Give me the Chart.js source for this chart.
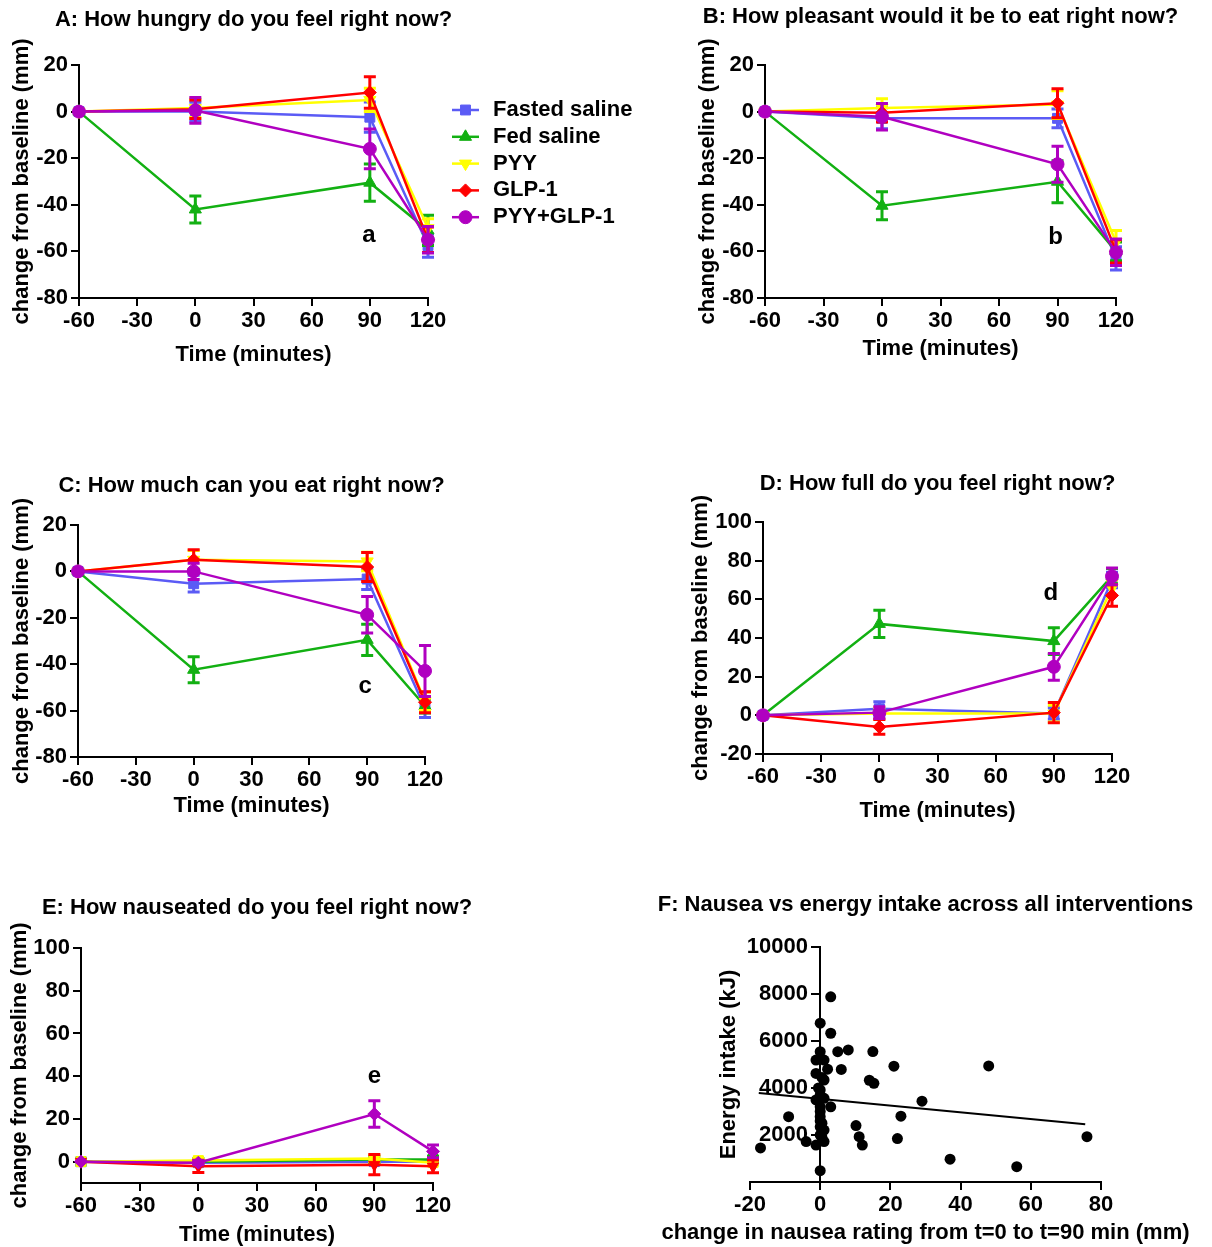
<!DOCTYPE html>
<html><head><meta charset="utf-8">
<script src="https://cdn.jsdelivr.net/npm/chart.js@4.4.1/dist/chart.umd.min.js"></script>
<style>
html,body{margin:0;padding:0;background:#fff;}
#wrap{position:relative;width:1212px;height:1247px;overflow:hidden;background:#fff;}
canvas{position:absolute;}
</style></head><body><div id="wrap"></div>
<script>
// ---------------- DATA ----------------
const timePoints = [-60, 0, 90, 120];
const seriesNames = ['Fasted saline', 'Fed saline', 'PYY', 'GLP-1', 'PYY+GLP-1'];
const xTickLabels = [-60, -30, 0, 30, 60, 90, 120];
const yTicksABC = [-80, -60, -40, -20, 0, 20];
const yTicksD = [-20, 0, 20, 40, 60, 80, 100];
const yTicksE = [0, 20, 40, 60, 80, 100];
const xTicksF = [-20, 0, 20, 40, 60, 80];
const yTicksF = [2000, 4000, 6000, 8000, 10000];

// A: hunger
const fastedA = [0, 0, -2.4, -57.5];
const fedA    = [0, -42, -30.5, -51];
const pyyA    = [0, 1.5, 5, -50];
const glpA    = [0, 1, 8.2, -55];
const comboA  = [0, 0.5, -16, -55];
const errFastedA = [0, 4, 6.5, 5];
const errFedA    = [0, 5.8, 8, 6.5];
const errPyyA    = [0, 4, 5, 4];
const errGlpA    = [0, 4, 6.8, 5.5];
const errComboA  = [0, 5.5, 8.5, 5.7];

// B: pleasantness
const fastedB = [0, -2.9, -2.9, -63];
const fedB    = [0, -40.4, -30.1, -60];
const pyyB    = [0, 1.5, 3, -56];
const glpB    = [0, -0.5, 3.6, -60];
const comboB  = [0, -2.2, -22.6, -60.4];
const errFastedB = [0, 4.5, 4, 5];
const errFedB    = [0, 6, 9, 4];
const errPyyB    = [0, 4, 6, 5];
const errGlpB    = [0, 4, 6.2, 5];
const errComboB  = [0, 5.7, 7.7, 5.7];

// C: how much can you eat
const fastedC = [0, -5.3, -3.3, -59];
const fedC    = [0, -42.4, -29.5, -58];
const pyyC    = [0, 5, 4.3, -56];
const glpC    = [0, 5, 1.9, -56.4];
const comboC  = [0, 0, -18.7, -42.9];
const errFastedC = [0, 3.6, 4.5, 4];
const errFedC    = [0, 5.6, 6.7, 3];
const errPyyC    = [0, 4, 4, 4];
const errGlpC    = [0, 4.3, 6.3, 4.5];
const errComboC  = [0, 3.5, 7.9, 11];

// D: fullness
const fastedD = [0, 3.4, 1, 70];
const fedD    = [0, 47.3, 38.4, 72];
const pyyD    = [0, 1, 0.9, 66];
const glpD    = [0, -6, 1.4, 62];
const comboD  = [0, 1.4, 25.1, 71.9];
const errFastedD = [0, 3.6, 3, 4];
const errFedD    = [0, 7, 6.9, 4];
const errPyyD    = [0, 3, 4.3, 4];
const errGlpD    = [0, 3.8, 5.3, 5.6];
const errComboD  = [0, 3, 6.9, 4.3];

// E: nausea
const fastedE = [0, -0.5, 0, 0];
const fedE    = [0, 0, 1, 1];
const pyyE    = [0, 0.5, 1.5, -0.5];
const glpE    = [0, -2.2, -1.4, -2.2];
const comboE  = [0, -0.5, 22.3, 4.8];
const errFastedE = [0, 1, 1, 1];
const errFedE    = [0, 1.5, 1.5, 1.5];
const errPyyE    = [0, 1, 1.5, 1];
const errGlpE    = [0, 2.9, 4.7, 3];
const errComboE  = [0, 1, 6.2, 3];

// F: nausea change vs energy intake
const nauseaChange = [-17, -9, -4, -1.2, 0, 0, 3, 3, 0, 5, 8, 15, -1.2, 1.1, 2.1, 6, -1.2, 1.1, 14, 15.3,
  0, -1.2, 1.1, 0, 3, 0, 0.5, 0, 1.1, 0, 1.1, 10.2, 11.1, 12, 21, 29, 23, 22, 37, 48, 56, 76, 0, 0, -0.5, 0.5, 0.5, 0];
const energyIntake = [1450, 2780, 1720, 1570, 480, 6760, 7880, 6330, 5545, 5545, 5620, 5550, 5190, 5190, 4800, 4790, 4620, 4340, 4330, 4200,
  3920, 3490, 3560, 3200, 3200, 2780, 2500, 2350, 2210, 2000, 1720, 2400, 1930, 1570, 4930, 3440, 2800, 1850, 970, 4940, 650, 1930, 3000, 2600, 4000, 1900, 4450, 3700];
const fitLineX = [-17.5, 75.5];
const fitLineY = [3790, 2460];

// ---------------- STYLE ----------------
const seriesColors = ['#5b5bf5', '#12b012', '#ffff00', '#ff0000', '#b000c0'];
const pointStyles = ['rect', 'triangle', 'triangle', 'rectRot', 'circle'];
const pointRots = [0, 0, 180, 0, 0];
const pointRadii = [7, 7, 7, 6.5, 6.5];
const pointStylesE = ['rect', 'rect', 'rect', 'triangle', 'rectRot'];
const pointRotsE = [0, 0, 0, 180, 0];

const FAM = "'Liberation Sans', Arial, Helvetica, sans-serif";
Chart.defaults.font.family = FAM;
Chart.defaults.font.size = 22;
Chart.defaults.font.weight = 'bold';
Chart.defaults.color = '#000';
const FS = 22, LHpx = FS * 1.2;

// ---------------- PLUGINS ----------------
const errorBarPlugin = {
  id: 'errorBars',
  beforeDatasetDraw(chart, args) {
    const ds = chart.data.datasets[args.index];
    if (!ds.errors) return;
    const ys = chart.scales.y, ctx = chart.ctx;
    ctx.save();
    ctx.strokeStyle = ds.borderColor;
    ctx.lineWidth = 3;
    args.meta.data.forEach((pt, i) => {
      const e = ds.errors[i];
      if (!e) return;
      const v = ds.data[i].y;
      const y1 = ys.getPixelForValue(v + e), y2 = ys.getPixelForValue(v - e);
      const x = pt.x, w = 6;
      ctx.beginPath();
      ctx.moveTo(x, y1); ctx.lineTo(x, y2);
      ctx.moveTo(x - w, y1); ctx.lineTo(x + w, y1);
      ctx.moveTo(x - w, y2); ctx.lineTo(x + w, y2);
      ctx.stroke();
    });
    ctx.restore();
  }
};

const sideLegendPlugin = {
  id: 'sideLegend',
  afterDraw(chart, args, opts) {
    if (!opts || !opts.display) return;
    const ctx = chart.ctx;
    ctx.save();
    chart.data.datasets.forEach((ds, i) => {
      const y = opts.y0 + i * opts.dy;
      ctx.strokeStyle = ds.borderColor;
      ctx.lineWidth = 2.5;
      ctx.beginPath();
      ctx.moveTo(opts.x0, y); ctx.lineTo(opts.x0 + opts.len, y);
      ctx.stroke();
      ctx.fillStyle = ds.pointBackgroundColor;
      ctx.strokeStyle = ds.pointBorderColor;
      ctx.lineWidth = 1;
      Chart.helpers.drawPoint(ctx, {pointStyle: ds.pointStyle, radius: ds.pointRadius, rotation: ds.pointRotation || 0, borderWidth: 1}, opts.x0 + opts.len / 2, y);
      ctx.fillStyle = '#000';
      ctx.font = 'bold 22px ' + FAM;
      ctx.textAlign = 'left';
      ctx.textBaseline = 'middle';
      ctx.fillText(ds.label, opts.tx, y);
    });
    ctx.restore();
  }
};

const noteTextPlugin = {
  id: 'noteText',
  afterDraw(chart, args, opts) {
    if (!opts || !opts.items) return;
    const ctx = chart.ctx;
    opts.items.forEach(it => {
      ctx.save();
      ctx.fillStyle = '#000';
      ctx.font = 'bold ' + (it.size || 22) + 'px ' + FAM;
      ctx.textAlign = 'center';
      ctx.textBaseline = 'middle';
      let x, y;
      if (it.xVal !== undefined) {
        x = chart.scales.x.getPixelForValue(it.xVal);
        y = chart.scales.y.getPixelForValue(it.yVal);
      } else {
        x = it.px === 'center' ? (chart.chartArea.left + chart.chartArea.right) / 2 : it.px;
        y = it.py === undefined ? (chart.chartArea.top + chart.chartArea.bottom) / 2 : it.py;
      }
      ctx.translate(x, y);
      if (it.rotate) ctx.rotate(it.rotate);
      ctx.fillText(it.text, 0, 0);
      ctx.restore();
    });
  }
};

Chart.register(errorBarPlugin, sideLegendPlugin, noteTextPlugin);

function mkCanvas(p) {
  const c = document.createElement('canvas');
  c.width = p.cw; c.height = p.ch;
  c.style.left = p.cx + 'px'; c.style.top = p.cy + 'px';
  c.style.width = p.cw + 'px'; c.style.height = p.ch + 'px';
  document.getElementById('wrap').appendChild(c);
  return c;
}

const axisGrid = {display: true, drawOnChartArea: false, drawTicks: true, tickLength: 8, color: '#000', lineWidth: 2};
const axisBorder = {display: true, color: '#000', width: 2};
const boldFont = {size: 22, weight: 'bold', family: FAM, lineHeight: 1.2};

function makeLinePanel(p) {
  const canvas = mkCanvas(p);
  const Lx = p.L - p.cx, Rx = p.R - p.cx, Ty = p.T - p.cy, By = p.B - p.cy;
  const styles = p.styles || pointStyles, rots = p.rots || pointRots;
  const datasets = seriesNames.map((name, i) => ({
    label: name,
    data: timePoints.map((t, k) => ({x: t, y: p.values[i][k]})),
    errors: p.errors[i],
    borderColor: seriesColors[i],
    backgroundColor: seriesColors[i],
    pointBackgroundColor: seriesColors[i],
    pointBorderColor: seriesColors[i],
    pointStyle: styles[i],
    pointRotation: rots[i],
    pointRadius: pointRadii[i],
    pointBorderWidth: 1,
    borderWidth: 2.5,
    tension: 0,
    clip: false,
    order: 5 - i
  }));
  const plugins = {
    legend: {display: false},
    tooltip: {enabled: false},
    title: {display: false},
    noteText: {items: [
      {text: p.title, px: 'center', py: p.titleY - p.cy, size: 22},
      {text: p.note, xVal: p.noteX, yVal: p.noteY, size: 24}
    ]}
  };
  if (p.legend) plugins.sideLegend = {display: true, x0: 452, len: 27, tx: 493, y0: 110, dy: 26.8};
  new Chart(canvas, {
    type: 'line',
    data: {datasets},
    options: {
      responsive: false, animation: false, events: [],
      layout: {padding: {left: 0, top: Ty, right: p.cw - Rx, bottom: 0}},
      plugins,
      scales: {
        x: {
          type: 'linear', min: -60, max: 120,
          ticks: {autoSkip: false, maxRotation: 0, padding: 2, color: '#000', font: boldFont},
          afterBuildTicks: s => { s.ticks = xTickLabels.map(v => ({value: v})); },
          grid: axisGrid, border: axisBorder,
          title: {display: true, text: 'Time (minutes)', color: '#000', font: boldFont,
            padding: {top: 0, bottom: p.ch - (p.xTitleY - p.cy) - LHpx / 2}},
          afterFit: s => { s.height = p.ch - By; }
        },
        y: {
          type: 'linear', min: p.yMin, max: p.yMax,
          ticks: {autoSkip: false, padding: 3, color: '#000', font: boldFont},
          afterBuildTicks: s => { s.ticks = p.yTicks.map(v => ({value: v})); },
          grid: axisGrid, border: axisBorder,
          title: {display: true, text: 'change from baseline (mm)', color: '#000', font: boldFont,
            padding: {top: (p.yTitleX - p.cx) - LHpx / 2, bottom: 0}},
          afterFit: s => { s.width = Lx; }
        }
      }
    }
  });
}

makeLinePanel({cx: 0, cy: 0, cw: 660, ch: 380, L: 79, T: 65, R: 428, B: 298, titleY: 20, yTitleX: 22, xTitleY: 355,
  title: 'A: How hungry do you feel right now?', yMin: -80, yMax: 20, yTicks: yTicksABC,
  values: [fastedA, fedA, pyyA, glpA, comboA], errors: [errFastedA, errFedA, errPyyA, errGlpA, errComboA],
  note: 'a', noteX: 89.5, noteY: -53, legend: true});

makeLinePanel({cx: 690, cy: 0, cw: 522, ch: 380, L: 765, T: 65, R: 1116, B: 298, titleY: 17, yTitleX: 708, xTitleY: 349,
  title: 'B: How pleasant would it be to eat right now?', yMin: -80, yMax: 20, yTicks: yTicksABC,
  values: [fastedB, fedB, pyyB, glpB, comboB], errors: [errFastedB, errFedB, errPyyB, errGlpB, errComboB],
  note: 'b', noteX: 89, noteY: -54});

makeLinePanel({cx: 0, cy: 460, cw: 660, ch: 370, L: 78, T: 525, R: 425, B: 757, titleY: 486, yTitleX: 22, xTitleY: 806,
  title: 'C: How much can you eat right now?', yMin: -80, yMax: 20, yTicks: yTicksABC,
  values: [fastedC, fedC, pyyC, glpC, comboC], errors: [errFastedC, errFedC, errPyyC, errGlpC, errComboC],
  note: 'c', noteX: 89, noteY: -49.5});

makeLinePanel({cx: 690, cy: 460, cw: 522, ch: 370, L: 763, T: 522, R: 1112, B: 754, titleY: 484, yTitleX: 701, xTitleY: 811,
  title: 'D: How full do you feel right now?', yMin: -20, yMax: 100, yTicks: yTicksD,
  values: [fastedD, fedD, pyyD, glpD, comboD], errors: [errFastedD, errFedD, errPyyD, errGlpD, errComboD],
  note: 'd', noteX: 88.5, noteY: 63});

makeLinePanel({cx: 0, cy: 880, cw: 660, ch: 367, L: 81, T: 948, R: 433, B: 1183, titleY: 908, yTitleX: 20, xTitleY: 1235,
  title: 'E: How nauseated do you feel right now?', yMin: -10, yMax: 100, yTicks: yTicksE,
  values: [fastedE, fedE, pyyE, glpE, comboE], errors: [errFastedE, errFedE, errPyyE, errGlpE, errComboE],
  note: 'e', noteX: 90, noteY: 40, styles: pointStylesE, rots: pointRotsE});

// ---------------- PANEL F ----------------
(function () {
  const p = {cx: 640, cy: 880, cw: 572, ch: 367, L: 750, T: 947, R: 1101, B: 1182, titleY: 905, xTitleY: 1233, yTitleX: 729};
  const canvas = mkCanvas(p);
  const Lx = p.L - p.cx, Rx = p.R - p.cx, Ty = p.T - p.cy, By = p.B - p.cy;
  new Chart(canvas, {
    type: 'scatter',
    data: {datasets: [
      {type: 'scatter', label: 'intake', data: nauseaChange.map((x, i) => ({x, y: energyIntake[i]})),
        pointRadius: 5.5, pointBackgroundColor: '#000', pointBorderColor: '#000', pointBorderWidth: 0, clip: false, order: 1},
      {type: 'line', label: 'fit', data: fitLineX.map((x, i) => ({x, y: fitLineY[i]})),
        borderColor: '#000', borderWidth: 2, pointRadius: 0, tension: 0, clip: false, order: 2}
    ]},
    options: {
      responsive: false, animation: false, events: [],
      layout: {padding: {left: Lx, top: Ty, right: p.cw - Rx, bottom: 0}},
      plugins: {
        legend: {display: false}, tooltip: {enabled: false}, title: {display: false},
        noteText: {items: [
          {text: 'F: Nausea vs energy intake across all interventions', px: 'center', py: p.titleY - p.cy, size: 22},
          {text: 'Energy intake (kJ)', px: p.yTitleX - p.cx, rotate: -Math.PI / 2, size: 22},
          {text: 'change in nausea rating from t=0 to t=90 min (mm)', px: 'center', py: p.xTitleY - p.cy, size: 22}
        ]}
      },
      scales: {
        x: {
          type: 'linear', min: -20, max: 80,
          ticks: {autoSkip: false, maxRotation: 0, padding: 2, color: '#000', font: boldFont},
          afterBuildTicks: s => { s.ticks = xTicksF.map(v => ({value: v})); },
          grid: axisGrid, border: axisBorder,
          title: {display: false},
          afterFit: s => { s.height = p.ch - By; }
        },
        y: {
          type: 'linear', position: {x: 0}, min: 0, max: 10000,
          ticks: {autoSkip: false, color: '#000', font: boldFont, callback: v => String(v) + '  '},
          afterBuildTicks: s => { s.ticks = yTicksF.map(v => ({value: v})); },
          grid: axisGrid, border: axisBorder,
          title: {display: false}
        }
      }
    }
  });
})();
</script>
</body></html>
